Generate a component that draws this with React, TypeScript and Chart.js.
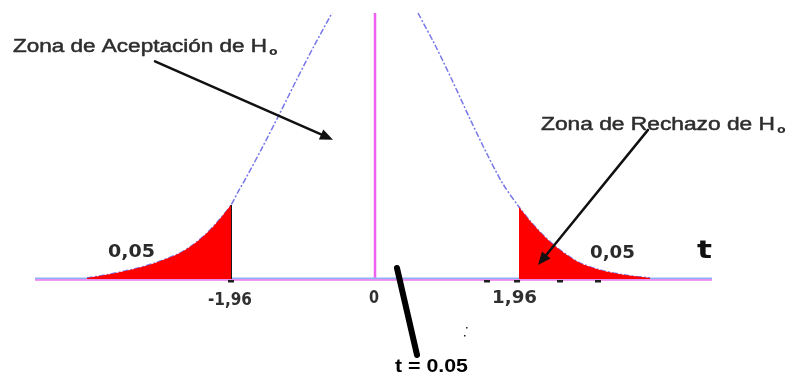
import React, { useEffect, useRef } from "react";
import { Chart, registerables } from "chart.js";

Chart.register(...registerables);

// ---- Data (x in t units, y in density units) ----
const leftCurveX = [-3.92, -3.675, -3.335, -2.994, -2.654, -2.464, -2.287, -2.123, -1.96, -1.865, -1.756, -1.538, -1.307, -1.062, -0.83, -0.585];
const leftCurveY = [0.0014, 0.0057, 0.0129, 0.0229, 0.0371, 0.05, 0.0657, 0.0843, 0.1057, 0.1243, 0.1443, 0.1871, 0.2343, 0.2857, 0.3329, 0.38];
const rightCurveX = [0.585, 0.817, 1.048, 1.293, 1.538, 1.742, 1.96, 2.123, 2.287, 2.45, 2.613, 2.79, 3.062, 3.403, 3.743];
const rightCurveY = [0.38, 0.3343, 0.2843, 0.2286, 0.1757, 0.1357, 0.1029, 0.0814, 0.0629, 0.0471, 0.0343, 0.0229, 0.0129, 0.0057, 0.0014];

const criticalValues = [-1.96, 1.96];
const centerValue = 0;
const centerLineTop = 0.38;
const axisRange = [-4.628, 4.587];
const xRange = [-5.104, 5.757];
const yRange = [-0.142857, 0.398571];

// annotation anchors (data units)
const labelTexts = ["Zona de Aceptación de H", "Zona de Rechazo de H", "0,05", "0,05", "-1,96", "0", "1,96", "t = 0.05", "t"];
const labelX = [-4.927, 2.259, -3.634, 2.926, -1.974, -0.014, 1.899, 0.272, 4.383];
const labelY = [0.324, 0.213, 0.031, 0.03, -0.037, -0.034, -0.034, -0.133, 0.03];

const arrowFromX = [-2.994, 3.716];
const arrowFromY = [0.311, 0.213];
const arrowToX = [-0.572, 2.219];
const arrowToY = [0.199, 0.02];

const pointerLine = [[0.299, 0.0157], [0.572, -0.1086]];
const axisMarksX = [-1.96, 1.524, 1.933, 2.518, 3.035];
const speckX = [1.239, 1.211];
const speckY = [-0.0686, -0.08];

// ---- styles (kept apart from the data) ----
const labelStyles = [
  { font: "18px 'Liberation Sans', Arial", color: "#2e2e2e", width: 254, align: "left", sub: true, stroke: 0.5 },
  { font: "18px 'Liberation Sans', Arial", color: "#2e2e2e", width: 234, align: "left", sub: true, stroke: 0.5 },
  { font: "bold 18px 'DejaVu Sans'", color: "#2a2a2a", width: 47, align: "left" },
  { font: "bold 18px 'DejaVu Sans'", color: "#2a2a2a", width: 45, align: "left" },
  { font: "bold 18px 'DejaVu Sans'", color: "#303030", width: 44, align: "center" },
  { font: "bold 18px 'DejaVu Sans'", color: "#303030", width: 10, align: "center" },
  { font: "bold 18px 'DejaVu Sans'", color: "#303030", width: 45, align: "center" },
  { font: "bold 19px 'Liberation Sans', Arial", color: "#000000", width: 73, align: "left" },
  { font: "bold 24px 'DejaVu Sans'", color: "#111111", width: 15, align: "left" },
];

const pts = (xs: number[], ys: number[]) => xs.map((x, i) => ({ x, y: ys[i] }));

const annotationPlugin = {
  id: "annotations",
  afterDatasetsDraw(chart: any) {
    const ctx: CanvasRenderingContext2D = chart.ctx;
    const sx = chart.scales.x;
    const sy = chart.scales.y;
    const X = (v: number) => sx.getPixelForValue(v);
    const Y = (v: number) => sy.getPixelForValue(v);

    ctx.save();
    ctx.fillStyle = "#1e1e1e";
    axisMarksX.forEach((v) => {
      ctx.fillRect(X(v) - 3, Y(0) + 1, 6, 2.5);
    });
    speckX.forEach((v, i) => {
      ctx.fillRect(X(v), Y(speckY[i]), 1.5, 1.5);
    });

    arrowFromX.forEach((fx, i) => {
      const x1 = X(fx), y1 = Y(arrowFromY[i]);
      const x2 = X(arrowToX[i]), y2 = Y(arrowToY[i]);
      const ang = Math.atan2(y2 - y1, x2 - x1);
      const head = 13;
      const bx = x2 - head * Math.cos(ang);
      const by = y2 - head * Math.sin(ang);
      ctx.strokeStyle = "#111";
      ctx.lineWidth = 2.5;
      ctx.lineCap = "round";
      ctx.beginPath();
      ctx.moveTo(x1, y1);
      ctx.lineTo(bx, by);
      ctx.stroke();
      ctx.fillStyle = "#111";
      ctx.beginPath();
      ctx.moveTo(x2, y2);
      ctx.lineTo(bx + 5.5 * Math.sin(ang), by - 5.5 * Math.cos(ang));
      ctx.lineTo(bx - 5.5 * Math.sin(ang), by + 5.5 * Math.cos(ang));
      ctx.closePath();
      ctx.fill();
    });

    ctx.strokeStyle = "#000";
    ctx.lineWidth = 6;
    ctx.lineCap = "round";
    ctx.beginPath();
    ctx.moveTo(X(pointerLine[0][0]), Y(pointerLine[0][1]));
    ctx.lineTo(X(pointerLine[1][0]), Y(pointerLine[1][1]));
    ctx.stroke();

    labelTexts.forEach((text, i) => {
      const st: any = labelStyles[i];
      ctx.font = st.font;
      ctx.textAlign = "left";
      ctx.textBaseline = "alphabetic";
      const w = ctx.measureText(text).width;
      const s = st.width / w;
      const px = X(labelX[i]);
      const py = Y(labelY[i]);
      ctx.save();
      ctx.translate(px, py);
      ctx.scale(s, 1);
      ctx.fillStyle = st.color;
      const ox = st.align === "center" ? -w / 2 : 0;
      ctx.fillText(text, ox, 0);
      if (st.stroke) {
        ctx.strokeStyle = st.color;
        ctx.lineWidth = st.stroke;
        ctx.lineJoin = "round";
        ctx.strokeText(text, ox, 0);
      }
      if (st.sub) {
        ctx.font = "bold 10px 'DejaVu Sans'";
        ctx.fillText("o", ox + w + 1.5, 3);
      }
      ctx.restore();
    });
    ctx.restore();
  },
};

export default function App() {
  const ref = useRef<HTMLCanvasElement | null>(null);

  useEffect(() => {
    if (!ref.current) return;
    const left = pts(leftCurveX, leftCurveY);
    const right = pts(rightCurveX, rightCurveY);
    const leftTail = left.filter((p) => p.x <= criticalValues[0]);
    const rightTail = right.filter((p) => p.x >= criticalValues[1]);
    const leftEdgeTop = leftCurveY[leftCurveX.indexOf(criticalValues[0])];

    const curveStyle = {
      borderColor: "rgba(95,95,230,0.85)",
      borderWidth: 1.5,
      borderDash: [6, 2, 2, 2],
      pointRadius: 0,
      fill: false,
      tension: 0.3,
    };

    const chart = new Chart(ref.current, {
      type: "line",
      data: {
        datasets: [
          { data: leftTail, backgroundColor: "#ff0000", borderWidth: 0, pointRadius: 0, fill: "origin", tension: 0.3 },
          { data: rightTail, backgroundColor: "#ff0000", borderWidth: 0, pointRadius: 0, fill: "origin", tension: 0.3 },
          { data: left, ...curveStyle },
          { data: right, ...curveStyle },
          { data: [{ x: criticalValues[0], y: 0 }, { x: criticalValues[0], y: leftEdgeTop }], borderColor: "#1a1a1a", borderWidth: 2, pointRadius: 0, fill: false, tension: 0 },
          { data: [{ x: axisRange[0], y: -0.0016 }, { x: axisRange[1], y: -0.0016 }], borderColor: "#ee77ee", borderWidth: 1.5, pointRadius: 0, fill: false, tension: 0 },
          { data: [{ x: axisRange[0], y: 0.0006 }, { x: axisRange[1], y: 0.0006 }], borderColor: "#8fb2f5", borderWidth: 2, pointRadius: 0, fill: false, tension: 0 },
          { data: [{ x: centerValue, y: 0 }, { x: centerValue, y: centerLineTop }], borderColor: "#f060f0", borderWidth: 2.5, pointRadius: 0, fill: false, tension: 0 },
        ] as any,
      },
      options: {
        responsive: false,
        animation: false,
        devicePixelRatio: 1,
        layout: { padding: 0 },
        plugins: { legend: { display: false }, tooltip: { enabled: false } },
        events: [],
        scales: {
          x: { type: "linear", min: xRange[0], max: xRange[1], display: false },
          y: { type: "linear", min: yRange[0], max: yRange[1], display: false },
        },
      },
      plugins: [annotationPlugin],
    });
    return () => chart.destroy();
  }, []);

  return (
    <div style={{ position: "absolute", left: 0, top: 0, width: 798, height: 379, background: "#fff" }}>
      <canvas ref={ref} width={798} height={379} />
    </div>
  );
}
